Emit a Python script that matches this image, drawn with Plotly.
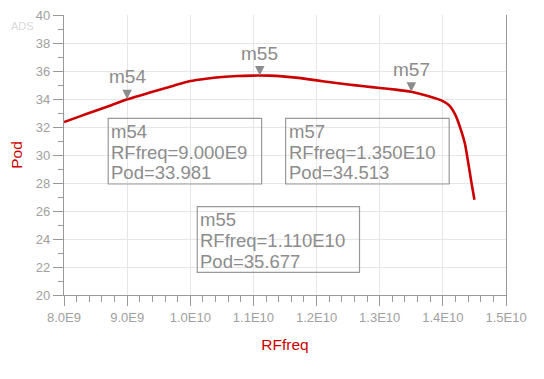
import plotly.graph_objects as go

# ---- data ----
rf_freq = [8.0e9, 8.25e9, 8.5e9, 8.75e9, 9.0e9, 9.25e9, 9.5e9, 9.75e9, 10.0e9, 10.25e9,
           10.5e9, 10.75e9, 11.0e9, 11.1e9, 11.25e9, 11.5e9, 11.75e9, 12.0e9, 12.25e9,
           12.5e9, 12.75e9, 13.0e9, 13.25e9, 13.5e9, 13.75e9, 14.0e9, 14.1e9, 14.2e9,
           14.3e9, 14.35e9, 14.4e9, 14.45e9, 14.5e9]
pod = [32.35, 32.76, 33.16, 33.56, 33.98, 34.31, 34.64, 34.97, 35.28, 35.45,
       35.57, 35.64, 35.67, 35.677, 35.67, 35.60, 35.49, 35.33, 35.18,
       35.04, 34.91, 34.79, 34.67, 34.513, 34.23, 33.85, 33.55, 32.85,
       31.60, 30.80, 29.50, 28.10, 26.80]

marker_names = ["m54", "m55", "m57"]
marker_freq = [9.0e9, 1.11e10, 1.35e10]
marker_pod = [33.981, 35.677, 34.513]

x_tick_vals = [8e9, 9e9, 10e9, 11e9, 12e9, 13e9, 14e9, 15e9]
x_tick_text = ["8.0E9", "9.0E9", "1.0E10", "1.1E10", "1.2E10", "1.3E10", "1.4E10", "1.5E10"]
y_tick_vals = [20, 22, 24, 26, 28, 30, 32, 34, 36, 38, 40]

# ---- styles / layout ----
RED = "#cc0000"
GRAY = "#8c8c8c"
TICKGRAY = "#a0a0a0"
AXGRAY = "#999999"
FONT = "Liberation Sans, Arial, sans-serif"

# readout boxes (data-space rectangles), keyed by marker name
boxes = {
    "m54": dict(x0=8.70e9, x1=11.13e9, y0=27.93, y1=32.62),
    "m57": dict(x0=11.51e9, x1=14.10e9, y0=27.93, y1=32.62),
    "m55": dict(x0=10.11e9, x1=12.68e9, y0=21.62, y1=26.31),
}


def fmt_freq(v):
    s = f"{v:.3E}"
    mant, exp = s.split("E")
    return f"{mant}E{int(exp)}"


fig = go.Figure()
fig.add_trace(go.Scatter(x=rf_freq, y=pod, mode="lines",
                         line=dict(color=RED, width=2.6, shape="spline", smoothing=0.5),
                         hoverinfo="skip"))
# marker triangles: arrow-down has its tip exactly on the data point
fig.add_trace(go.Scatter(x=marker_freq, y=marker_pod, mode="markers",
                         marker=dict(symbol="arrow-down", size=9.5, color=GRAY,
                                     line=dict(width=0)),
                         hoverinfo="skip"))

annotations = []
shapes = []
for name, fx, py in zip(marker_names, marker_freq, marker_pod):
    annotations.append(dict(x=fx, y=py, xref="x", yref="y", text=name, showarrow=False,
                            font=dict(family=FONT, size=19, color=GRAY),
                            xanchor="center", yanchor="bottom", yshift=10))
    b = boxes[name]
    shapes.append(dict(type="rect", xref="x", yref="y", x0=b["x0"], x1=b["x1"],
                       y0=b["y0"], y1=b["y1"], line=dict(color=AXGRAY, width=1.2),
                       fillcolor="rgba(0,0,0,0)"))
    lines = [name, f"RFfreq={fmt_freq(fx)}", f"Pod={py:.3f}"]
    for i, t in enumerate(lines):
        annotations.append(dict(x=b["x0"], y=b["y1"], xref="x", yref="y", text=t,
                                showarrow=False, xanchor="left", yanchor="middle",
                                xshift=2, yshift=-13.2 - 20.7 * i, borderpad=0,
                                font=dict(family=FONT, size=18.5, color=GRAY)))

# faint ADS logo text (top-left corner)
annotations.append(dict(x=-0.125, y=0.961, xref="paper", yref="paper", text="ADS",
                        showarrow=False, xanchor="left", yanchor="middle",
                        font=dict(family=FONT, size=11, color="#d8d8d8")))

# page body has an 8px margin -> figure sized so that plot area lands at 64..506 x 15..295
fig.update_layout(
    width=528, height=363,
    margin=dict(l=56, r=30, t=7, b=76),
    paper_bgcolor="white", plot_bgcolor="white",
    showlegend=False,
    annotations=annotations,
    shapes=shapes,
    xaxis=dict(
        range=[8e9, 15e9], tickvals=x_tick_vals, ticktext=x_tick_text,
        showline=True, linecolor=AXGRAY, linewidth=1.2,
        ticks="outside", ticklen=10, tickcolor=AXGRAY, tickwidth=1.2,
        showgrid=True, gridcolor="#e6e6e6", gridwidth=1, zeroline=False,
        tickfont=dict(family=FONT, size=13, color=TICKGRAY),
        ticklabeloverflow="allow",
        minor=dict(dtick=0.2e9, tick0=8e9, ticks="outside", ticklen=6,
                   tickcolor=AXGRAY, tickwidth=1, showgrid=False),
        title=dict(text="RFfreq", font=dict(family=FONT, size=15.5, color=RED), standoff=15),
        automargin=False,
    ),
    yaxis=dict(
        range=[20, 40], tickvals=y_tick_vals,
        showline=True, linecolor=AXGRAY, linewidth=1.2, mirror=True,
        ticks="outside", ticklen=10, tickcolor=AXGRAY, tickwidth=1.2,
        showgrid=True, gridcolor="#e6e6e6", gridwidth=1, zeroline=False,
        tickfont=dict(family=FONT, size=13, color=TICKGRAY),
        ticklabeloverflow="allow",
        minor=dict(dtick=1, tick0=20, ticks="outside", ticklen=5,
                   tickcolor=AXGRAY, tickwidth=1, showgrid=False),
        title=dict(text="Pod", font=dict(family=FONT, size=15.5, color=RED), standoff=17),
        automargin=False,
    ),
)

fig.write_html("out.html")
